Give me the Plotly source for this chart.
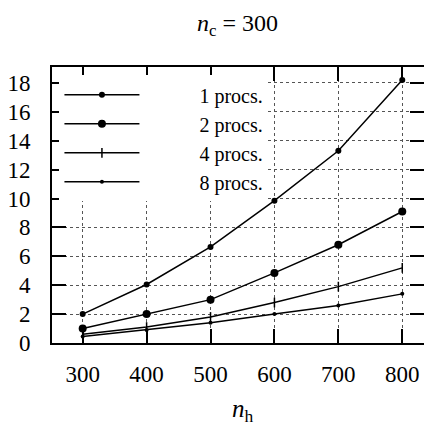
import plotly.graph_objects as go

n_h = [300, 400, 500, 600, 700, 800]
procs_1 = [2.0, 4.05, 6.65, 9.85, 13.3, 18.2]
procs_2 = [1.0, 2.0, 3.0, 4.85, 6.8, 9.1]
procs_4 = [0.6, 1.1, 1.8, 2.8, 3.9, 5.2]
procs_8 = [0.45, 0.9, 1.4, 2.0, 2.6, 3.4]
series_names = ["1 procs.", "2 procs.", "4 procs.", "8 procs."]
x_ticks = [300, 400, 500, 600, 700, 800]
y_ticks = [0, 2, 4, 6, 8, 10, 12, 14, 16, 18]

FONT = "'Liberation Serif', 'DejaVu Serif', serif"
markers = [
    dict(symbol="circle", size=6),
    dict(symbol="circle", size=8),
    dict(symbol="line-ns", size=7, line=dict(width=1.5, color="black")),
    dict(symbol="circle", size=4),
]
pad = "\u00a0" * 11

fig = go.Figure()
for name, ys, mk in zip(series_names, [procs_1, procs_2, procs_4, procs_8], markers):
    fig.add_trace(go.Scatter(
        x=n_h, y=ys, name=pad + name, mode="lines+markers",
        line=dict(color="black", width=1.5),
        marker=dict(color="black", **mk),
    ))

axis_common = dict(
    showline=True, linecolor="black", linewidth=2, mirror="ticks",
    ticks="inside", ticklen=14, tickwidth=1.5, tickcolor="black",
    showgrid=True, gridcolor="#555", griddash="dot", gridwidth=1,
    zeroline=False, automargin=False,
    tickfont=dict(family=FONT, size=23, color="black"),
)
fig.update_xaxes(range=[252, 834], tickvals=x_ticks, ticklabelstandoff=9, **axis_common)
fig.update_yaxes(range=[0, 19.1], tickvals=y_ticks, ticklabelstandoff=15, **axis_common)

fig.update_layout(
    width=424, height=425,
    margin=dict(l=52, r=0, t=67, b=82),
    paper_bgcolor="white", plot_bgcolor="white",
    font=dict(family=FONT, color="black"),
    title=dict(text="<i>n</i><sub>c</sub> = 300", x=0.56, xanchor="center",
               y=0.948, yanchor="middle", font=dict(family=FONT, size=24)),
    legend=dict(x=0.02, y=0.97, xanchor="left", yanchor="top",
                bgcolor="white", borderwidth=0, itemwidth=75,
                font=dict(family=FONT, size=20), tracegroupgap=0),
    showlegend=True,
    annotations=[dict(text="<i>n</i><sub>h</sub>", xref="paper", yref="paper",
                      x=0.513, y=-0.243, xanchor="center", yanchor="middle",
                      showarrow=False, font=dict(family=FONT, size=25))],
)

fig.write_html(
    "out.html",
    config={"displayModeBar": False},
    post_script="document.body.style.margin='0';document.body.style.overflow='hidden';",
)
